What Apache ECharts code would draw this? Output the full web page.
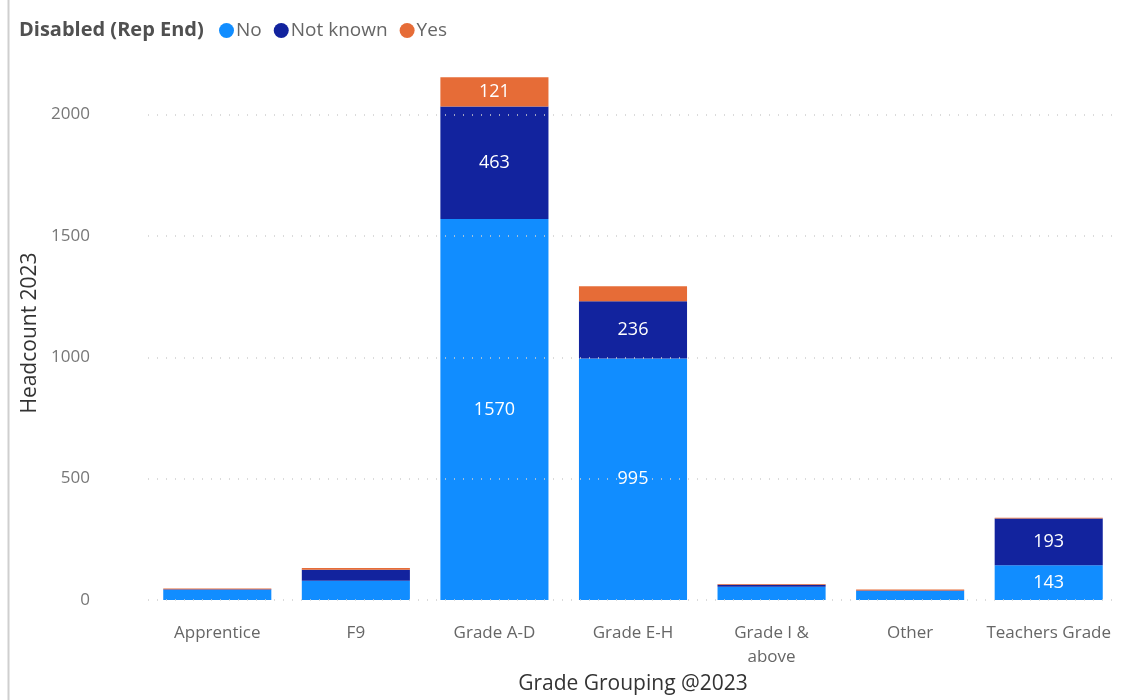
<!DOCTYPE html>
<html>
<head>
<meta charset="utf-8">
<script src="https://cdn.jsdelivr.net/npm/echarts@6/dist/echarts.min.js"></script>
<style>
  html, body { margin: 0; padding: 0; background: #fff; }
  #chart { width: 1128px; height: 700px; }
</style>
</head>
<body>
<div id="chart"></div>
<script>
// categories and values
const grades = ['Apprentice', 'F9', 'Grade A-D', 'Grade E-H', 'Grade I &\nabove', 'Other', 'Teachers Grade'];
const noValues = [42, 79, 1570, 995, 55, 37, 143];
const notKnownValues = [2, 46, 463, 236, 8, 2, 193];
const yesValues = [3, 7, 121, 62, 3, 4, 3];
const yTicks = [0, 500, 1000, 1500, 2000];

const fontFamily = "'Segoe UI', 'Open Sans', 'Noto Sans', sans-serif";
const labelMin = 100;

// 数据标签：只显示较大的分段
function segLabel(p) {
    return p.value >= labelMin ? String(p.value) : '';
}

function makeSeries(name, data, color, withGrid) {
    const s = {
        name: name,
        type: 'bar',
        stack: 'total',
        data: data,
        barCategoryGap: '22%',
        itemStyle: { color: color },
        label: {
            show: true,
            position: 'inside',
            color: '#fff',
            fontSize: 18,
            fontFamily: fontFamily,
            formatter: segLabel
        },
        emphasis: { disabled: true }
    };
    if (withGrid) {
        s.markLine = {
            silent: true,
            symbol: 'none',
            label: { show: false },
            lineStyle: { color: '#d0d0d0', type: [1, 8], width: 1.5 },
            data: yTicks.map(v => ({ yAxis: v }))
        };
    }
    return s;
}

function init() {
    const chart = echarts.init(document.getElementById('chart'));
    const option = {
        animation: false,
        textStyle: { fontFamily: fontFamily },
        title: {
            text: 'Disabled (Rep End)',
            left: 14,
            top: 15,
            textStyle: { fontSize: 20, fontWeight: 'bold', color: '#505050', fontFamily: fontFamily }
        },
        legend: {
            left: 214,
            top: 16,
            icon: 'circle',
            itemWidth: 15,
            itemHeight: 15,
            itemGap: 12,
            textStyle: { fontSize: 19, color: '#666', padding: [0, 0, 0, -3], fontFamily: fontFamily },
            data: ['No', 'Not known', 'Yes']
        },
        grid: { left: 148, right: 10, top: 66, bottom: 100 },
        xAxis: {
            type: 'category',
            data: grades,
            axisLine: { show: false },
            axisTick: { show: false },
            axisLabel: { color: '#666', fontSize: 17, margin: 21, lineHeight: 24, interval: 0 },
            name: 'Grade Grouping @2023',
            nameLocation: 'middle',
            nameGap: 69,
            nameTextStyle: { color: '#333', fontSize: 21 }
        },
        yAxis: {
            type: 'value',
            min: 0,
            max: 2200,
            interval: 500,
            splitLine: { show: false },
            axisLabel: {
                color: '#777',
                fontSize: 17,
                margin: 58,
                showMaxLabel: false,
                formatter: v => String(v)
            },
            name: 'Headcount 2023',
            nameLocation: 'middle',
            nameGap: 101,
            nameTextStyle: { color: '#333', fontSize: 21 }
        },
        graphic: [{
            type: 'line',
            shape: { x1: 8.5, y1: 0, x2: 8.5, y2: 700 },
            style: { stroke: '#cfcfcf', lineWidth: 2 },
            silent: true
        }],
        series: [
            makeSeries('No', noValues, '#118DFF', true),
            makeSeries('Not known', notKnownValues, '#12239E', false),
            makeSeries('Yes', yesValues, '#E66C37', false)
        ]
    };
    chart.setOption(option);
}

document.addEventListener('DOMContentLoaded', init);
</script>
</body>
</html>
